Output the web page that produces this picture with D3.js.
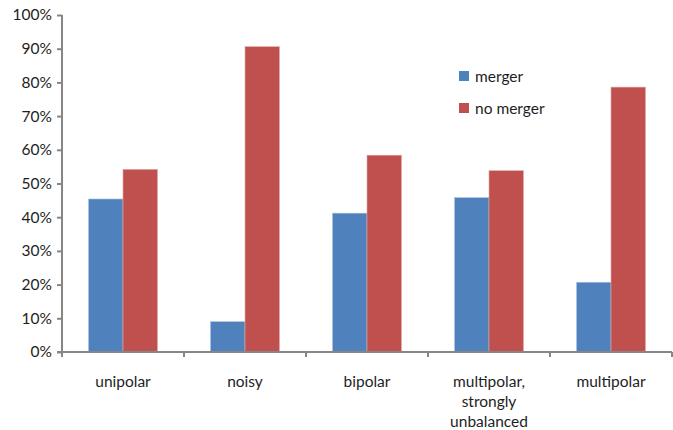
<!DOCTYPE html>
<html>
<head>
<meta charset="utf-8">
<script src="https://cdn.jsdelivr.net/npm/d3@7"></script>
<style>
  html, body { margin: 0; padding: 0; background: #fff; }
  svg text { font-family: Lato, "Open Sans", "Noto Sans", sans-serif; fill: #1e1e1e; }
</style>
</head>
<body>
<svg id="chart" width="673" height="430"></svg>
<script>
// Share of runs ending in a merger, by field configuration
const categories = ["unipolar", "noisy", "bipolar", "multipolar, strongly unbalanced", "multipolar"];
const categoryLines = [["unipolar"], ["noisy"], ["bipolar"], ["multipolar,", "strongly", "unbalanced"], ["multipolar"]];
const seriesNames = ["merger", "no merger"];
const merger   = [0.454, 0.090, 0.412, 0.458, 0.207];
const noMerger = [0.542, 0.906, 0.584, 0.538, 0.786];
const seriesColors = ["#4F81BD", "#C0504D"];
const yTicks = [0, 0.1, 0.2, 0.3, 0.4, 0.5, 0.6, 0.7, 0.8, 0.9, 1.0];

const svg = d3.select("#chart");
const margin = { left: 62, right: 1, top: 15, bottom: 78 };
const W = 673, H = 430;
const fontSize = "15.5px";

const x = d3.scaleBand()
  .domain(categories)
  .range([margin.left, W - margin.right])
  .paddingInner(0)
  .paddingOuter(0);

const x1 = d3.scaleBand()
  .domain(seriesNames)
  .range([0, x.bandwidth()])
  .paddingInner(0)
  .paddingOuter(0.77);

const y = d3.scaleLinear()
  .domain([0, 1])
  .range([H - margin.bottom, margin.top]);

const rows = categories.map((c, i) => ({ cat: c, values: [merger[i], noMerger[i]] }));

// bars
const g = svg.append("g");
rows.forEach(r => {
  r.values.forEach((v, j) => {
    g.append("rect")
      .attr("x", x(r.cat) + x1(seriesNames[j]))
      .attr("y", y(v))
      .attr("width", x1.bandwidth())
      .attr("height", y(0) - y(v))
      .attr("fill", seriesColors[j])
      .attr("stroke", j === 0 ? "#a9c0de" : "#e0a8a6")
      .attr("stroke-width", 0.6);
  });
});

// y axis
const yAxis = d3.axisLeft(y)
  .tickValues(yTicks)
  .tickFormat(d3.format(".0%"))
  .tickSize(5)
  .tickPadding(5);
const gy = svg.append("g")
  .attr("transform", `translate(${margin.left},0)`)
  .call(yAxis);
gy.select(".domain").attr("stroke", "#868686").attr("stroke-width", 2)
  .attr("d", `M0,${y(1)}V${y(0)}`);
gy.selectAll(".tick line").attr("stroke", "#868686").attr("stroke-width", 2);
gy.selectAll(".tick text").style("font-size", fontSize).attr("fill", "#1e1e1e");

// x axis with ticks on band boundaries
const gx = svg.append("g")
  .attr("transform", `translate(0,${y(0)})`);
gx.append("line")
  .attr("x1", margin.left - 5).attr("x2", W - margin.right)
  .attr("stroke", "#868686").attr("stroke-width", 2);
const bounds = categories.map(c => x(c)).concat([x(categories[categories.length - 1]) + x.bandwidth()]);
gx.selectAll("line.tk").data(bounds).enter().append("line")
  .attr("class", "tk")
  .attr("x1", d => d).attr("x2", d => d)
  .attr("y1", 0).attr("y2", 5)
  .attr("stroke", "#868686").attr("stroke-width", 2);

// category labels
categories.forEach((c, i) => {
  const t = svg.append("text")
    .attr("x", x(c) + x.bandwidth() / 2)
    .attr("y", 387)
    .attr("text-anchor", "middle")
    .style("font-size", fontSize);
  categoryLines[i].forEach((line, k) => {
    t.append("tspan")
      .attr("x", x(c) + x.bandwidth() / 2)
      .attr("dy", k === 0 ? 0 : 20)
      .text(line);
  });
});

// legend
const legend = svg.append("g").attr("transform", "translate(459,71)");
seriesNames.forEach((s, j) => {
  const row = legend.append("g").attr("transform", `translate(0,${j * 32})`);
  row.append("rect").attr("width", 10).attr("height", 10).attr("fill", seriesColors[j]);
  row.append("text").attr("x", 16).attr("y", 10.5).style("font-size", fontSize).text(s);
});
</script>
</body>
</html>
